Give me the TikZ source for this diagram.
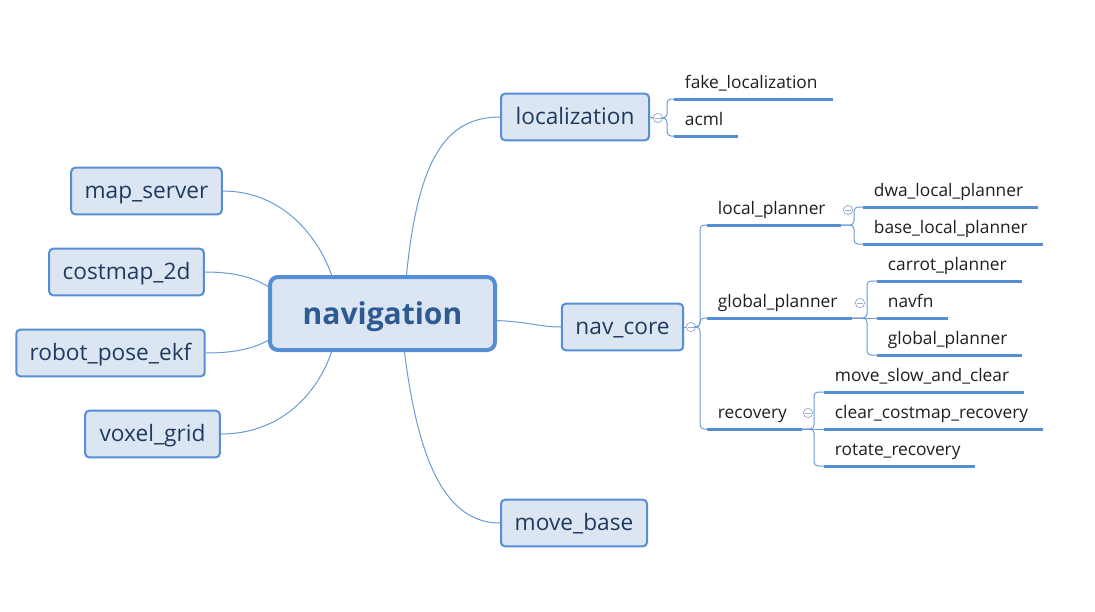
\documentclass[tikz,border=0pt]{standalone}
\usepackage{fontspec}
\setmainfont{Open Sans}
\usetikzlibrary{calc,positioning}
\definecolor{boxfill}{HTML}{DCE6F2}
\definecolor{boxline}{HTML}{558ED5}
\definecolor{linkblue}{HTML}{6A9AD8}
\definecolor{boxtext}{HTML}{1F3A60}
\definecolor{roottext}{HTML}{2E5A94}
\definecolor{foldgray}{HTML}{9AB0D0}
\tikzset{
  topic/.style={draw=boxline,fill=boxfill,line width=1.5pt,rounded corners=3pt,
    text=boxtext,font=\fontsize{17}{20}\selectfont,inner xsep=10pt,
    minimum height=35pt,text height=15pt,text depth=3.5pt},
  root/.style={draw=boxline,fill=boxfill,line width=3pt,rounded corners=6pt,
    text=roottext,font=\bfseries\fontsize{22.5}{26}\selectfont,
    minimum width=168.75pt,minimum height=54.75pt,text height=21pt,text depth=4.5pt},
  leaf/.style={anchor=south west,font=\fontsize{13}{16}\selectfont,text=black!88,
    inner xsep=8pt,inner ysep=4pt,text height=10pt,text depth=3.5pt},
  uline/.style={draw=boxline,line width=2.25pt},
  link/.style={draw=linkblue,line width=.75pt},
  fold/.style={circle,draw=foldgray,line width=.6pt,minimum size=7pt,inner sep=0pt,
    path picture={\draw[foldgray,line width=.6pt]
      ([xshift=1.6pt]path picture bounding box.west)--
      ([xshift=-1.6pt]path picture bounding box.east);}}
}
\begin{document}
\begin{tikzpicture}[x=.75pt,y=-.75pt]
\useasboundingbox (0,0) rectangle (1095,611);
% central topic
\node[root] (nav) at (382.5,313.5) {navigation};
% main topics
\node[topic,minimum width=111pt] (loc) at (575,117) {localization};
\node[topic,minimum width=91pt]  (nc)  at (622.5,327) {nav\_core};
\node[topic,minimum width=109.5pt] (mb) at (574,523) {move\_base};
\node[topic,minimum width=110pt] (ms)  at (146.5,191) {map\_server};
\node[topic,minimum width=116pt] (cm)  at (126.5,272) {costmap\_2d};
\node[topic,minimum width=140pt] (rpe) at (110.5,353) {robot\_pose\_ekf};
\node[topic,minimum width=101pt] (vg)  at (152.5,434) {voxel\_grid};
% fold markers
\node[fold] (locf) at (658,118) {};
\node[fold] (ncf)  at (691,327) {};
\node[fold] (lpf)  at (848,210) {};
\node[fold] (gpf)  at (860,303) {};
\node[fold] (recf) at (808,413) {};
% subtopics
\node[leaf] (fake)   at (674,99)  {fake\_localization};
\node[leaf] (acml)   at (674,136) {acml};
\node[leaf] (lp)     at (707,225) {local\_planner};
\node[leaf] (gp)     at (707,318) {global\_planner};
\node[leaf] (rec)    at (707,429) {recovery};
\node[leaf] (dwa)    at (863,207) {dwa\_local\_planner};
\node[leaf] (base)   at (863,244) {base\_local\_planner};
\node[leaf] (carrot) at (877,281) {carrot\_planner};
\node[leaf] (navfn)  at (877,318) {navfn};
\node[leaf] (gpl)    at (877,355) {global\_planner};
\node[leaf] (msc)    at (824,392) {move\_slow\_and\_clear};
\node[leaf] (ccr)    at (824,429) {clear\_costmap\_recovery};
\node[leaf] (rot)    at (824,466) {rotate\_recovery};
\foreach \n in {fake,acml,lp,gp,rec,dwa,base,carrot,navfn,gpl,msc,ccr,rot}
  \draw[uline] (\n.south west) -- ([xshift=3pt]\n.south east);
% links from the central topic
\draw[link] ($(nav.north)+(24,0)$) .. controls (418,160) and (445,117) .. (loc.west);
\draw[link] ($(nav.east)+(0,7)$) .. controls (530,322) and (540,327) .. (nc.west);
\draw[link] ($(nav.south)+(22,0)$) .. controls (418,460) and (445,523) .. (mb.west);
\draw[link] (ms.east) .. controls (282,191) and (318,236) .. ($(nav.north)+(-51,0)$);
\draw[link] (cm.east) .. controls (236,272) and (254,278) .. ($(nav.west)+(0,-27)$);
\draw[link] (rpe.east) .. controls (236,353) and (254,348) .. ($(nav.west)+(0,27)$);
\draw[link] (vg.east) .. controls (282,434) and (318,392) .. ($(nav.south)+(-51,0)$);
% brackets
\begin{scope}[rounded corners=3pt]
\draw[link] (loc.east) -- (locf.west);
\draw[link] (nc.east) -- (ncf.west);
\foreach \n in {fake,acml}
  \draw[link] (locf.east) -| ($(\n.south west)+(-7,0)$) -- (\n.south west);
\foreach \n in {lp,gp,rec}
  \draw[link] (ncf.east) -| ($(\n.south west)+(-7,0)$) -- (\n.south west);
\foreach \n in {dwa,base}
  \draw[link] ([xshift=3pt]lp.south east) -| ($(\n.south west)+(-9,0)$) -- (\n.south west);
\foreach \n in {carrot,gpl}
  \draw[link] ([xshift=3pt]gp.south east) -| ($(\n.south west)+(-10,0)$) -- (\n.south west);
\draw[link] ([xshift=3pt]gp.south east) -- (navfn.south west);
\foreach \n in {msc,rot}
  \draw[link] ([xshift=3pt]rec.south east) -| ($(\n.south west)+(-10,0)$) -- (\n.south west);
\draw[link] ([xshift=3pt]rec.south east) -- (ccr.south west);
\end{scope}
\end{tikzpicture}
\end{document}
